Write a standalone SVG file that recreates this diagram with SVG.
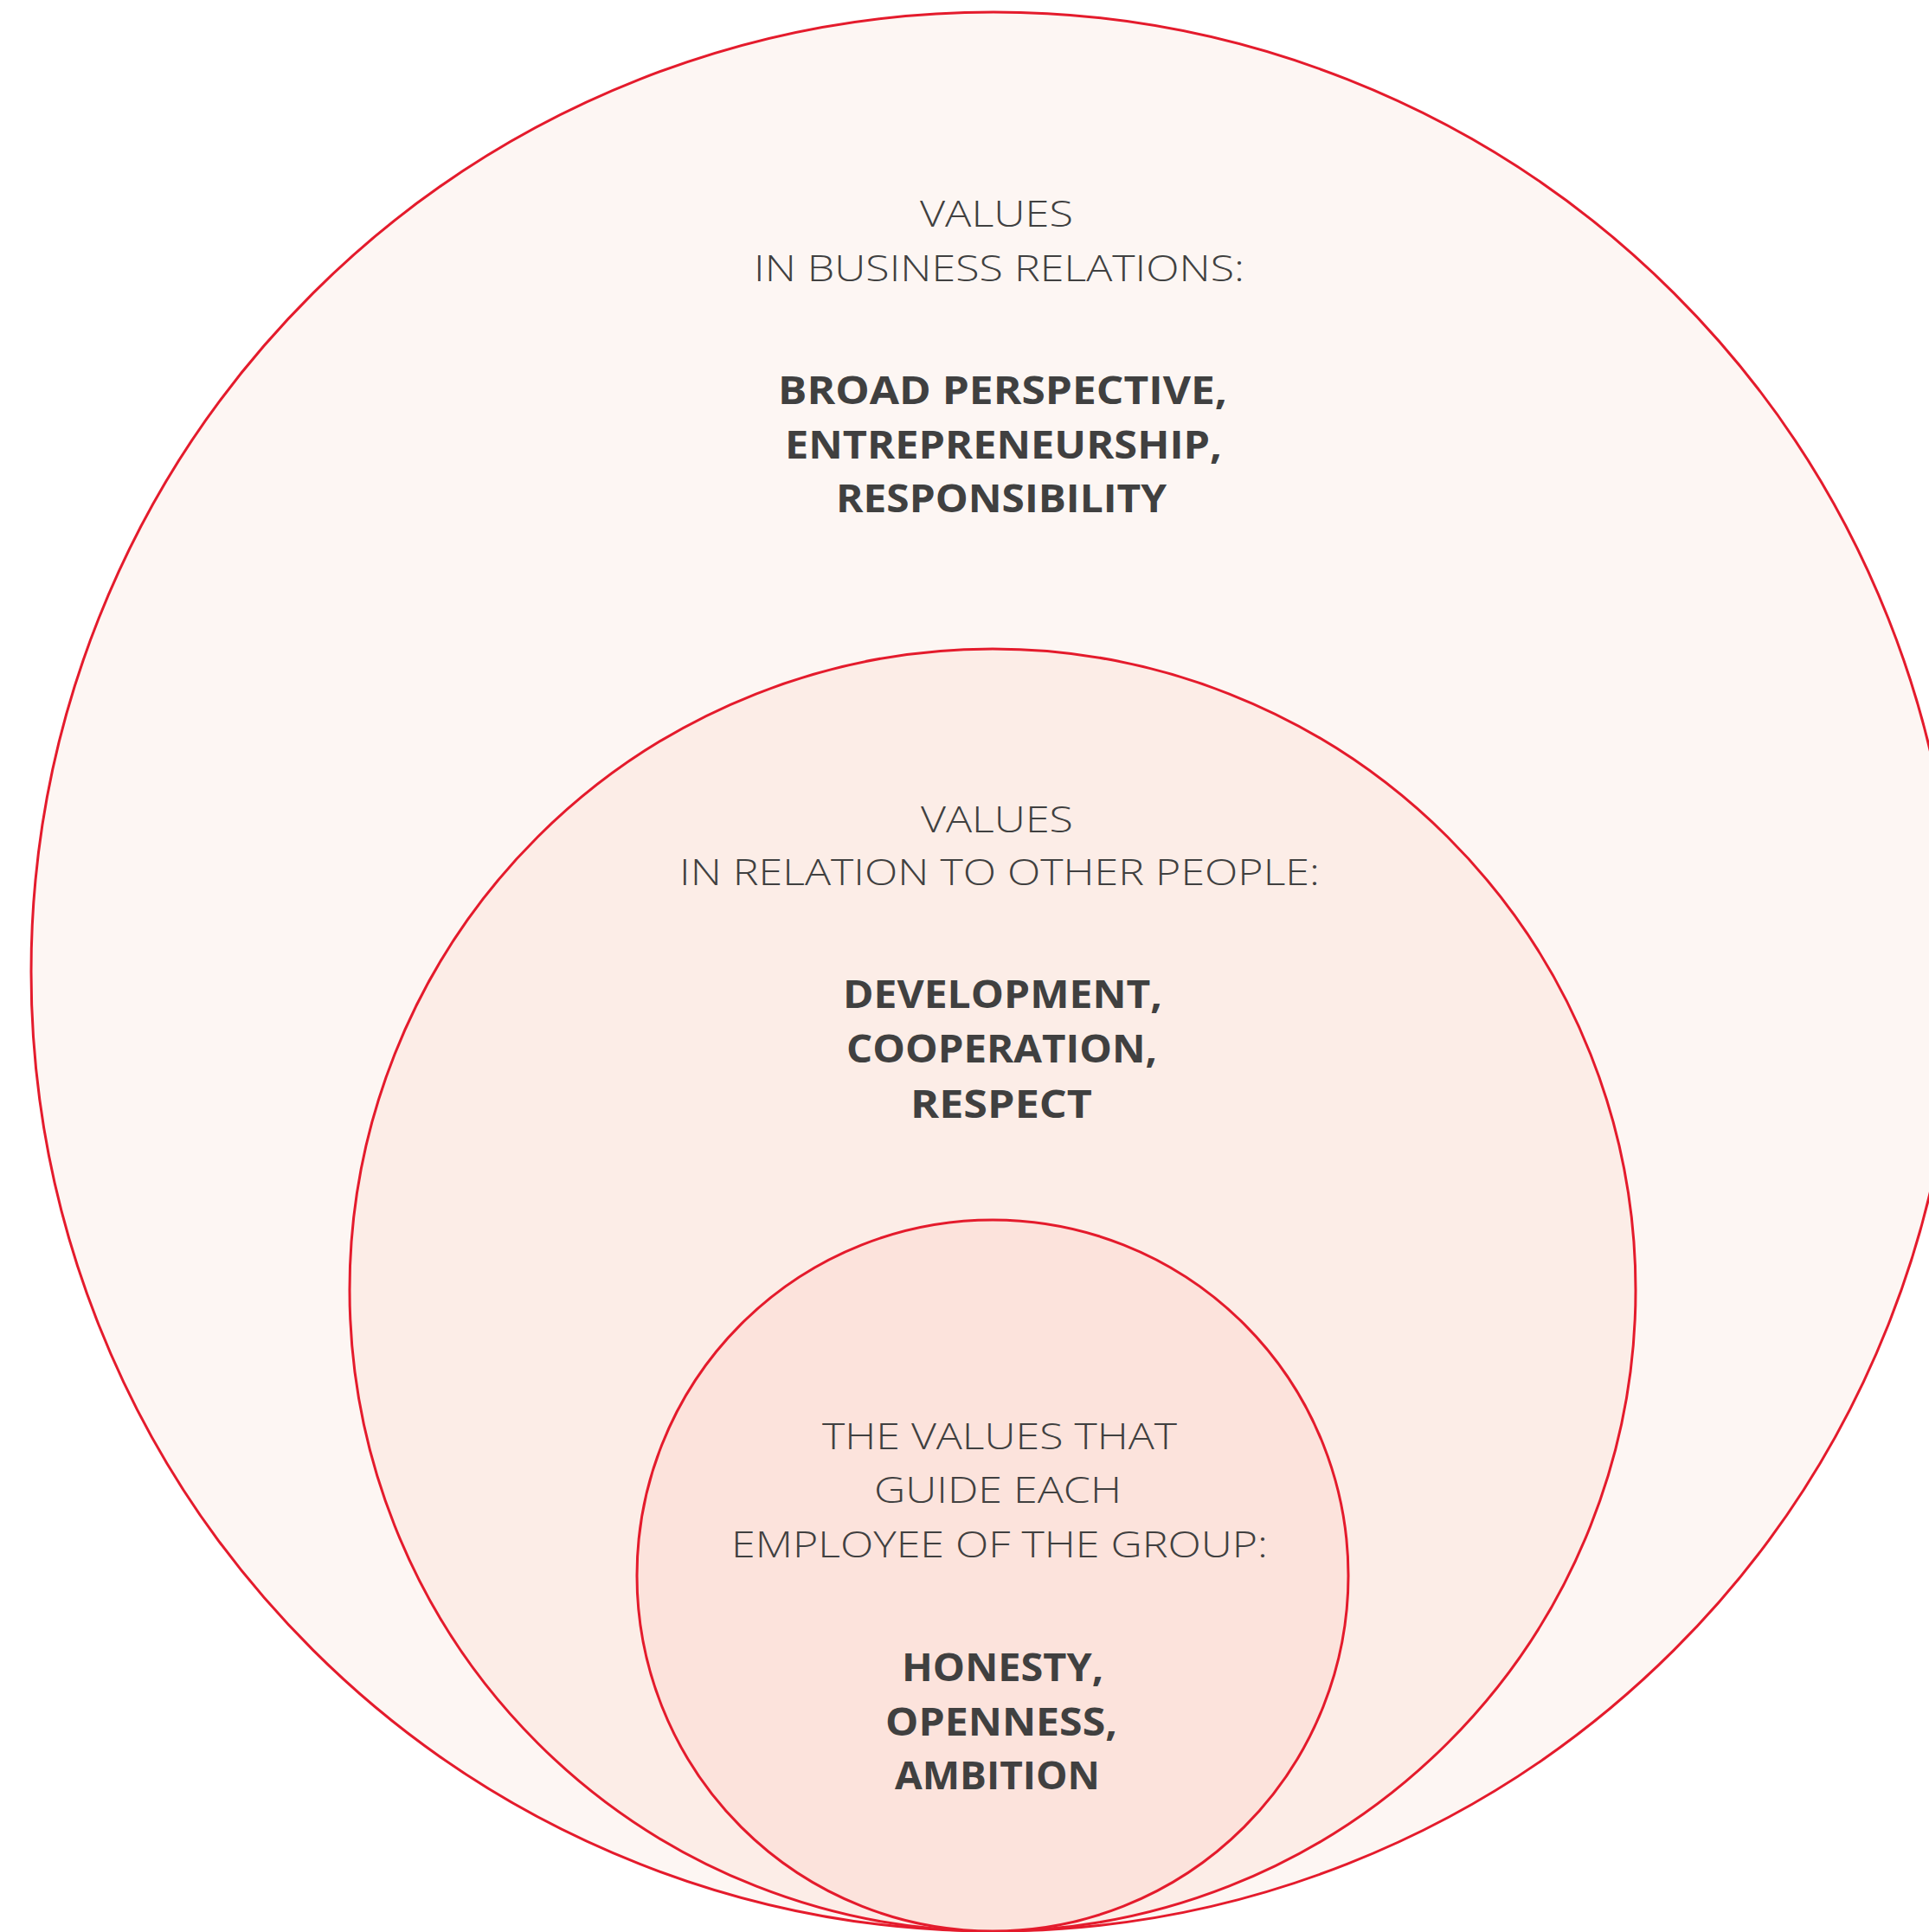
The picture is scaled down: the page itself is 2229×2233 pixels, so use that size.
<svg xmlns="http://www.w3.org/2000/svg" width="2229" height="2233" viewBox="0 0 2229 2233">
<style>
.ring{stroke:#e41b2c;stroke-width:3}
.lt{font-family:"Open Sans","Liberation Sans",sans-serif;font-weight:300;font-size:43px;fill:#404040}
.bd{font-family:"Open Sans","Liberation Sans",sans-serif;font-weight:700;font-size:45px;fill:#404040}
</style>
<rect width="2229" height="2233" fill="#ffffff"/>
<g id="outer">
<ellipse class="ring" cx="1148" cy="1123" rx="1112" ry="1109" fill="#fdf6f3"/>
<text class="lt" x="1063" y="262" textLength="177" lengthAdjust="spacingAndGlyphs">VALUES</text>
<text class="lt" x="871" y="325" textLength="567" lengthAdjust="spacingAndGlyphs">IN BUSINESS RELATIONS:</text>
<text class="bd" x="899" y="467" textLength="519" lengthAdjust="spacingAndGlyphs">BROAD PERSPECTIVE,</text>
<text class="bd" x="907" y="530" textLength="505" lengthAdjust="spacingAndGlyphs">ENTREPRENEURSHIP,</text>
<text class="bd" x="966" y="592" textLength="382" lengthAdjust="spacingAndGlyphs">RESPONSIBILITY</text>
</g>
<g id="middle">
<ellipse class="ring" cx="1147" cy="1491" rx="743" ry="741" fill="#fcede7"/>
<text class="lt" x="1064" y="962" textLength="176" lengthAdjust="spacingAndGlyphs">VALUES</text>
<text class="lt" x="785" y="1023" textLength="740" lengthAdjust="spacingAndGlyphs">IN RELATION TO OTHER PEOPLE:</text>
<text class="bd" x="974" y="1165" textLength="369" lengthAdjust="spacingAndGlyphs">DEVELOPMENT,</text>
<text class="bd" x="978" y="1228" textLength="359" lengthAdjust="spacingAndGlyphs">COOPERATION,</text>
<text class="bd" x="1052" y="1292" textLength="210" lengthAdjust="spacingAndGlyphs">RESPECT</text>
</g>
<g id="inner">
<circle class="ring" cx="1147" cy="1821" r="411" fill="#fce3dc"/>
<text class="lt" x="950" y="1675" textLength="410" lengthAdjust="spacingAndGlyphs">THE VALUES THAT</text>
<text class="lt" x="1010" y="1737" textLength="286" lengthAdjust="spacingAndGlyphs">GUIDE EACH</text>
<text class="lt" x="845" y="1800" textLength="620" lengthAdjust="spacingAndGlyphs">EMPLOYEE OF THE GROUP:</text>
<text class="bd" x="1042" y="1943" textLength="233" lengthAdjust="spacingAndGlyphs">HONESTY,</text>
<text class="bd" x="1023" y="2006" textLength="268" lengthAdjust="spacingAndGlyphs">OPENNESS,</text>
<text class="bd" x="1034" y="2068" textLength="237" lengthAdjust="spacingAndGlyphs">AMBITION</text>
</g>
<g id="connectors"/>
</svg>
